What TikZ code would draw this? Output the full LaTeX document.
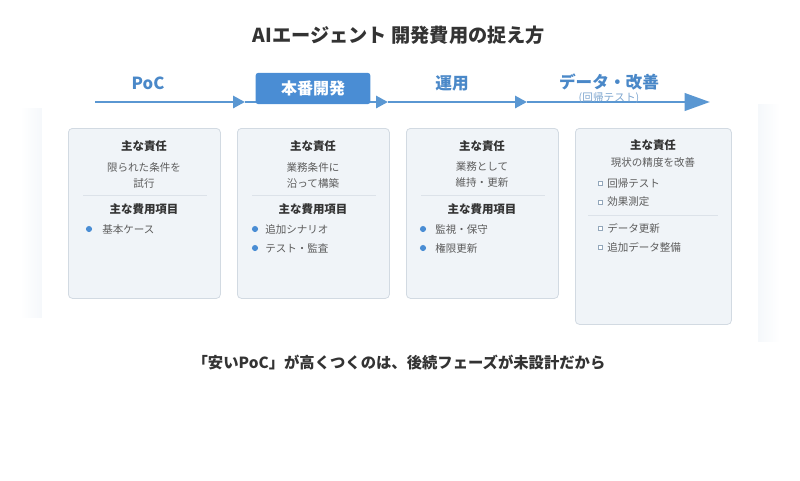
\documentclass[tikz,border=0pt]{standalone}
\usepackage{fontspec}
\setmainfont{Noto Sans CJK JP}
\usetikzlibrary{arrows.meta,positioning,fadings}
\definecolor{lineblue}{HTML}{5A97D2}
\definecolor{boxblue}{HTML}{4A8DD4}
\definecolor{phasetxt}{HTML}{4A88C8}
\definecolor{subtxt}{HTML}{7EA6CF}
\definecolor{cardbg}{HTML}{F0F4F8}
\definecolor{cardline}{HTML}{D2DAE2}
\definecolor{sepline}{HTML}{DCE2E9}
\definecolor{headtxt}{HTML}{333333}
\definecolor{bodytxt}{HTML}{5C5C5C}
\definecolor{dotblue}{HTML}{4A8DD4}
\definecolor{sqgray}{HTML}{93A7BB}
\definecolor{glow}{HTML}{EEF3F8}

\begin{document}
\begin{tikzpicture}[x=0.75pt,y=-0.75pt,
  card/.style={draw=cardline, fill=cardbg, rounded corners=3pt, line width=0.6pt, anchor=north west, inner sep=0, minimum width=114pt, minimum height=127.5pt},
  head/.style={font=\fontsize{8.6}{10}\selectfont\bfseries, text=headtxt, inner sep=0},
  body/.style={font=\fontsize{7.9}{12}\selectfont, text=bodytxt, inner sep=0, align=center},
  item/.style={font=\fontsize{7.9}{10}\selectfont, text=bodytxt, inner sep=0, anchor=west},
  dot/.style={circle, fill=dotblue, minimum size=4.6pt, inner sep=0},
  sq/.style={draw=sqgray, fill=white, minimum size=3pt, inner sep=0, line width=0.5pt},
  sep/.style={draw=sepline, line width=0.7pt},
  phase/.style={font=\fontsize{12.5}{14}\selectfont\bfseries, text=phasetxt, inner sep=0},
  tl/.style={draw=lineblue, line width=2.2pt},
  small/.style={-{Triangle[length=9pt,width=9pt]}},
  big/.style={-{Triangle[length=19pt,width=13pt]}}
]
\useasboundingbox (0,0) rectangle (800,480);

% faint side glow
\fill[glow, opacity=0.6, path fading=west] (20,108) rectangle (42,318);
\fill[glow, opacity=0.6, path fading=east] (758,104) rectangle (780,342);

% title
\node[font=\fontsize{14.4}{16}\selectfont\bfseries, text=headtxt] (title) at (399,35) {AIエージェント 開発費用の捉え方};

% timeline
\coordinate (t0) at (95,102);
\coordinate (t1) at (245,102);
\coordinate (t2) at (388,102);
\coordinate (t3) at (527,102);
\coordinate (t4) at (710,102);
\draw[tl,small] (t0) -- (t1);
\draw[tl,small] (t1) -- (t2);
\draw[tl,small] (t2) -- (t3);
\draw[tl,big] (t3) -- (t4);

\node[phase] (poc) at (148,83) {PoC};
\node[fill=boxblue, rounded corners=2pt, minimum width=86pt, minimum height=23.5pt, inner sep=0,
  font=\fontsize{12}{14}\selectfont\bfseries, text=white] (dev) at (313,88.5) {本番開発};
\node[phase] (ops) at (452,83) {運用};
\node[phase] (imp) at (609,82) {データ・改善};
\node[font=\fontsize{8}{9}\selectfont, text=subtxt, inner sep=0] (impsub) at (609,98) {(回帰テスト)};

% cards
\node[card] (c1) at (68,128) {};
\node[card] (c2) at (237,128) {};
\node[card] (c3) at (406,128) {};
\node[card, minimum width=117pt, minimum height=147pt] (c4) at (575,128) {};

% card 1: PoC
\node[head] (c1h) at (144,146) {主な責任};
\node[body] (c1b) at (144,175) {限られた条件を\\試行};
\draw[sep] (83,195) -- (207,195);
\node[head] (c1k) at (144,209) {主な費用項目};
\node[dot] (c1d1) at (89,229) {};
\node[item] (c1i1) at (102,229) {基本ケース};

% card 2: production
\node[head] (c2h) at (313,146) {主な責任};
\node[body] (c2b) at (313,175) {業務条件に\\沿って構築};
\draw[sep] (252,195) -- (376,195);
\node[head] (c2k) at (313,209) {主な費用項目};
\foreach \y/\t [count=\i] in {229/追加シナリオ,248/テスト・監査}{
  \node[dot] (c2d\i) at (255,\y) {};
  \node[item] (c2i\i) at (265,\y) {\t};
}

% card 3: operation
\node[head] (c3h) at (482,146) {主な責任};
\node[body] (c3b) at (482,175) {業務として\\維持・更新};
\draw[sep] (421,195) -- (545,195);
\node[head] (c3k) at (482,209) {主な費用項目};
\foreach \y/\t [count=\i] in {229/監視・保守,248/権限更新}{
  \node[dot] (c3d\i) at (423,\y) {};
  \node[item] (c3i\i) at (435,\y) {\t};
}

% card 4: data and improvement
\node[head] (c4h) at (653,145) {主な責任};
\node[body] (c4b) at (653,163) {現状の精度を改善};
\foreach \y/\t [count=\i] in {183/回帰テスト,202/効果測定,228/データ更新,247/追加データ整備}{
  \node[sq] (c4s\i) at (600,\y) {};
  \node[item] (c4i\i) at (607,\y) {\t};
}
\draw[sep] (588,215) -- (718,215);

% bottom message
\node[font=\fontsize{11.5}{13}\selectfont\bfseries, text=headtxt] (msg) at (399,363)
  {「安いPoC」が高くつくのは、後続フェーズが未設計だから};
\end{tikzpicture}
\end{document}
